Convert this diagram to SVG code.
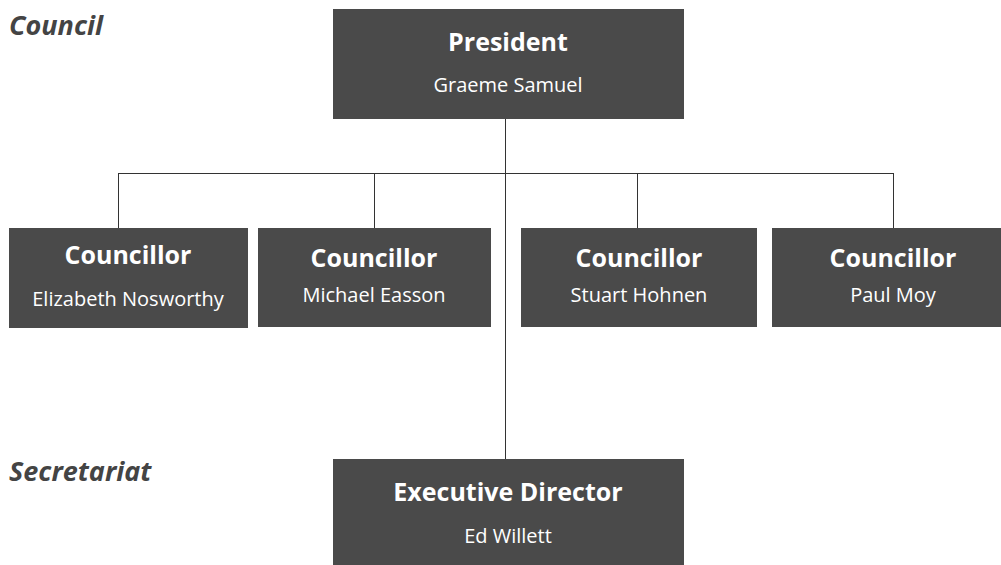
<svg xmlns="http://www.w3.org/2000/svg" width="1001" height="565" viewBox="0 0 1001 565">
<style>
.box{fill:#4a4a4a}
.t{font-family:"Open Sans","Liberation Sans",sans-serif;font-weight:bold;font-size:25px;fill:#fff;text-anchor:middle}
.n{font-family:"Open Sans","Liberation Sans",sans-serif;font-size:20px;fill:#fff;text-anchor:middle}
.lbl{font-family:"Open Sans","Liberation Sans",sans-serif;font-weight:bold;font-style:italic;font-size:27px;fill:#444}
.c{stroke:#333;stroke-width:1;fill:none}
</style>
<rect width="1001" height="565" fill="#fff"/>
<g id="connectors">
<path class="c" d="M505.5 119V459"/>
<path class="c" d="M118.5 173.5H893.5"/>
<path class="c" d="M118.5 173V228M374.5 173V228M637.5 173V228M893.5 173V228"/>
</g>
<text class="lbl" x="9" y="35">Council</text>
<text class="lbl" x="9" y="481">Secretariat</text>
<g id="president"><rect class="box" x="333" y="9" width="351" height="110"/><text class="t" x="508" y="51">President</text><text class="n" x="508" y="92">Graeme Samuel</text></g>
<g id="councillor1"><rect class="box" x="9" y="228" width="239" height="100"/><text class="t" x="128" y="264">Councillor</text><text class="n" x="128" y="306">Elizabeth Nosworthy</text></g>
<g id="councillor2"><rect class="box" x="258" y="228" width="233" height="99"/><text class="t" x="374" y="267">Councillor</text><text class="n" x="374" y="302">Michael Easson</text></g>
<g id="councillor3"><rect class="box" x="521" y="228" width="236" height="99"/><text class="t" x="639" y="267">Councillor</text><text class="n" x="639" y="302">Stuart Hohnen</text></g>
<g id="councillor4"><rect class="box" x="772" y="228" width="229" height="99"/><text class="t" x="893" y="267">Councillor</text><text class="n" x="893" y="302">Paul Moy</text></g>
<g id="executive"><rect class="box" x="333" y="459" width="351" height="106"/><text class="t" x="508" y="501">Executive Director</text><text class="n" x="508" y="543">Ed Willett</text></g>
</svg>
